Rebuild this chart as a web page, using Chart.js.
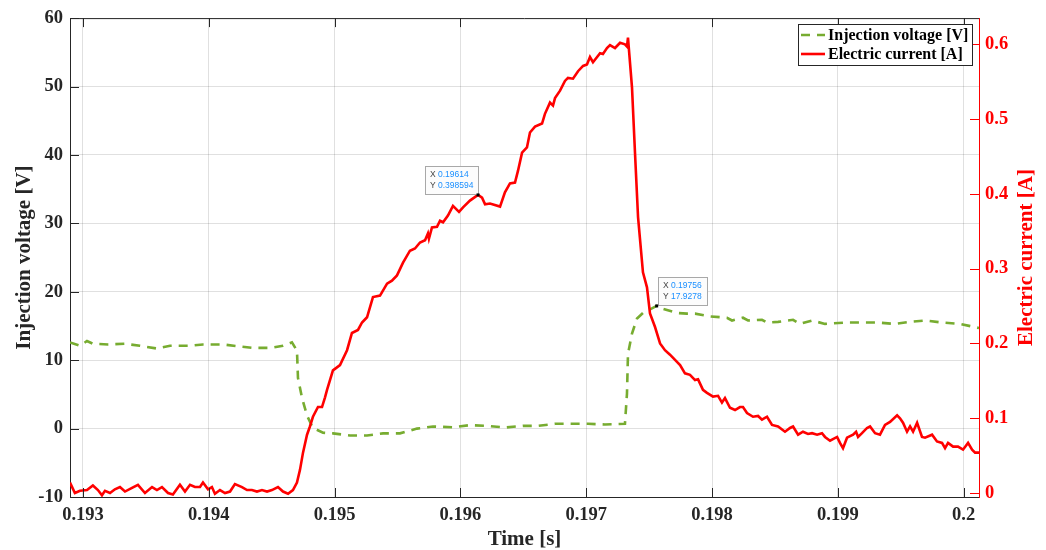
<!DOCTYPE html>
<html>
<head>
<meta charset="utf-8">
<script src="https://cdn.jsdelivr.net/npm/chart.js@4.4.1/dist/chart.umd.min.js"></script>
<style>
  html, body { margin: 0; padding: 0; background: #fff; }
</style>
</head>
<body>
<canvas id="myChart" width="1046" height="550"></canvas>
<script>
// time axis [s] for the current trace
const timeCurrent = [
  0.192897, 0.192936, 0.192976, 0.193032, 0.193079, 0.193119, 0.193151, 0.193175, 0.193215, 0.193254,
  0.193294, 0.193334, 0.193390, 0.193437, 0.193493, 0.193549, 0.193588, 0.193628, 0.193676, 0.193715,
  0.193771, 0.193811, 0.193851, 0.193890, 0.193930, 0.193954, 0.193994, 0.194025, 0.194049, 0.194089,
  0.194129, 0.194169, 0.194208, 0.194264, 0.194304, 0.194343, 0.194383, 0.194423, 0.194463, 0.194502,
  0.194550, 0.194590, 0.194630, 0.194669, 0.194701, 0.194725, 0.194749, 0.194781, 0.194804, 0.194828,
  0.194868, 0.194900, 0.194924, 0.194940, 0.194987, 0.195043, 0.195099, 0.195138, 0.195186, 0.195218,
  0.195258, 0.195305, 0.195361, 0.195417, 0.195456, 0.195496, 0.195544, 0.195599, 0.195639, 0.195679,
  0.195719, 0.195742, 0.195750, 0.195774, 0.195814, 0.195838, 0.195862, 0.195901, 0.195941, 0.195989,
  0.196021, 0.196076, 0.196140, 0.196172, 0.196196, 0.196235, 0.196315, 0.196354, 0.196394, 0.196434,
  0.196458, 0.196490, 0.196529, 0.196553, 0.196593, 0.196649, 0.196672, 0.196712, 0.196736, 0.196752,
  0.196792, 0.196831, 0.196855, 0.196895, 0.196935, 0.196975, 0.197006, 0.197030, 0.197054, 0.197110,
  0.197133, 0.197165, 0.197189, 0.197229, 0.197269, 0.197308, 0.197324, 0.197332, 0.197364, 0.197388,
  0.197412, 0.197451, 0.197483, 0.197507, 0.197547, 0.197587, 0.197626, 0.197666, 0.197706, 0.197746,
  0.197785, 0.197825, 0.197865, 0.197889, 0.197928, 0.197960, 0.198008, 0.198048, 0.198079, 0.198103,
  0.198143, 0.198183, 0.198222, 0.198246, 0.198278, 0.198326, 0.198366, 0.198397, 0.198437, 0.198477,
  0.198525, 0.198580, 0.198620, 0.198644, 0.198684, 0.198723, 0.198763, 0.198795, 0.198835, 0.198874,
  0.198898, 0.198938, 0.198994, 0.199017, 0.199041, 0.199073, 0.199121, 0.199145, 0.199161, 0.199192,
  0.199232, 0.199256, 0.199296, 0.199335, 0.199375, 0.199415, 0.199471, 0.199494, 0.199518, 0.199550,
  0.199574, 0.199598, 0.199630, 0.199669, 0.199693, 0.199749, 0.199788, 0.199828, 0.199852, 0.199876,
  0.199916, 0.199955, 0.199995, 0.200035, 0.200067, 0.200091, 0.200122
];
// electric current [A]
const current = [
  0.014, 0.000, 0.003, 0.004, 0.010, 0.004, -0.003, 0.003, 0.000, 0.005,
  0.008, 0.002, 0.007, 0.011, 0.000, 0.008, 0.004, 0.008, 0.000, -0.002,
  0.011, 0.002, 0.011, 0.008, 0.008, 0.014, 0.005, 0.008, -0.001, 0.004,
  0.000, 0.002, 0.012, 0.008, 0.004, 0.004, 0.002, 0.004, 0.002, 0.004,
  0.008, 0.002, -0.001, 0.004, 0.014, 0.031, 0.054, 0.078, 0.089, 0.102,
  0.115, 0.115, 0.128, 0.138, 0.164, 0.171, 0.191, 0.214, 0.218, 0.228,
  0.235, 0.262, 0.264, 0.280, 0.284, 0.291, 0.308, 0.324, 0.327, 0.335,
  0.338, 0.347, 0.340, 0.355, 0.356, 0.364, 0.362, 0.371, 0.384, 0.376,
  0.382, 0.391, 0.398594, 0.395, 0.386, 0.387, 0.383, 0.402, 0.414, 0.415,
  0.431, 0.455, 0.462, 0.482, 0.490, 0.494, 0.507, 0.522, 0.518, 0.528,
  0.538, 0.551, 0.555, 0.554, 0.564, 0.571, 0.573, 0.583, 0.576, 0.588,
  0.587, 0.595, 0.599, 0.595, 0.602, 0.600, 0.597, 0.609, 0.542, 0.454,
  0.369, 0.295, 0.275, 0.240, 0.222, 0.200, 0.191, 0.185, 0.178, 0.171,
  0.160, 0.158, 0.151, 0.152, 0.138, 0.134, 0.129, 0.130, 0.121, 0.127,
  0.114, 0.111, 0.115, 0.115, 0.107, 0.102, 0.103, 0.098, 0.102, 0.091,
  0.089, 0.082, 0.087, 0.089, 0.078, 0.082, 0.079, 0.080, 0.078, 0.080,
  0.075, 0.070, 0.075, 0.067, 0.060, 0.074, 0.078, 0.082, 0.075, 0.080,
  0.087, 0.089, 0.080, 0.078, 0.091, 0.095, 0.104, 0.100, 0.094, 0.082,
  0.089, 0.082, 0.094, 0.075, 0.074, 0.078, 0.069, 0.067, 0.060, 0.067,
  0.062, 0.062, 0.058, 0.067, 0.058, 0.054, 0.054
];
// time axis [s] for the voltage trace
const timeVoltage = [
  0.192897, 0.192976, 0.193032, 0.193079, 0.193199, 0.193334, 0.193453, 0.193588, 0.193692, 0.193851,
  0.193954, 0.194113, 0.194248, 0.194343, 0.194487, 0.194590, 0.194661, 0.194701, 0.194709, 0.194741,
  0.194781, 0.194828, 0.194908, 0.194987, 0.195122, 0.195258, 0.195385, 0.195520, 0.195655, 0.195782,
  0.195941, 0.196076, 0.196211, 0.196354, 0.196498, 0.196617, 0.196752, 0.196871, 0.197014, 0.197149,
  0.197308, 0.197324, 0.197332, 0.197364, 0.197404, 0.197451, 0.197560, 0.197610, 0.197722, 0.197801,
  0.197865, 0.197984, 0.198119, 0.198159, 0.198246, 0.198286, 0.198397, 0.198437, 0.198525, 0.198644,
  0.198699, 0.198795, 0.198898, 0.199057, 0.199176, 0.199312, 0.199455, 0.199574, 0.199693, 0.199828,
  0.199971, 0.200122
];
// injection voltage [V]
const voltage = [
  12.6, 12.1, 12.8, 12.4, 12.3, 12.4, 12.1, 11.7, 12.1, 12.1,
  12.3, 12.3, 12.0, 11.8, 11.8, 12.1, 12.6, 11.4, 7.4, 4.5,
  1.9, 0.1, -0.6, -0.7, -1.0, -1.0, -0.7, -0.7, 0.0, 0.3,
  0.2, 0.5, 0.4, 0.15, 0.4, 0.4, 0.7, 0.7, 0.7, 0.6,
  0.7, 5.1, 10.9, 13.9, 16.1, 16.9, 17.9278, 17.5, 16.9, 16.8,
  16.8, 16.4, 16.2, 15.8, 16.2, 15.8, 15.9, 15.5, 15.6, 15.9,
  15.3, 15.8, 15.3, 15.5, 15.5, 15.5, 15.3, 15.6, 15.8, 15.5,
  15.3, 14.7
];

const timeTicks = [0.193, 0.194, 0.195, 0.196, 0.197, 0.198, 0.199, 0.2];
const voltageTicks = [-10, 0, 10, 20, 30, 40, 50, 60];
const currentTicks = [0, 0.1, 0.2, 0.3, 0.4, 0.5, 0.6];

// data tips shown on the figure
const tipTime = [0.19614, 0.19756];
const tipValue = [0.398594, 17.9278];
const tipAxis = ['yR', 'yL'];

const SERIF = '"Liberation Serif", "Times New Roman", serif';
const INK = '#262626';
const GREEN = '#77AC30';
const RED = '#FF0000';

const framePlugin = {
  id: 'frame',
  afterDraw(chart) {
    const { ctx, chartArea: a, scales } = chart;
    const len = 9;
    ctx.save();
    ctx.lineWidth = 1;
    ctx.strokeStyle = INK;
    ctx.beginPath();
    ctx.moveTo(a.left, a.top + 0.5);
    ctx.lineTo(a.right, a.top + 0.5);
    timeTicks.forEach(v => {
      const x = Math.round(scales.x.getPixelForValue(v)) + 0.5;
      ctx.moveTo(x, a.bottom);
      ctx.lineTo(x, a.bottom - len);
      ctx.moveTo(x, a.top);
      ctx.lineTo(x, a.top + len);
    });
    voltageTicks.forEach(v => {
      const y = Math.round(scales.yL.getPixelForValue(v)) + 0.5;
      ctx.moveTo(a.left, y);
      ctx.lineTo(a.left + len, y);
    });
    ctx.stroke();

    ctx.strokeStyle = RED;
    ctx.beginPath();
    currentTicks.forEach(v => {
      const y = Math.round(scales.yR.getPixelForValue(v)) + 0.5;
      ctx.moveTo(a.right, y);
      ctx.lineTo(a.right - len, y);
    });
    ctx.stroke();

    // right axis title, reading bottom to top
    ctx.translate(1027, (a.top + a.bottom) / 2);
    ctx.rotate(-Math.PI / 2);
    ctx.fillStyle = RED;
    ctx.font = 'bold 21px ' + SERIF;
    ctx.textAlign = 'center';
    ctx.textBaseline = 'middle';
    ctx.fillText('Electric current [A]', 0, 0);
    ctx.restore();
  }
};

const legendPlugin = {
  id: 'boxLegend',
  afterDraw(chart) {
    const { ctx } = chart;
    const left = 798, top = 24, w = 174, h = 41;
    ctx.save();
    ctx.fillStyle = '#fff';
    ctx.fillRect(left, top, w, h);
    ctx.strokeStyle = INK;
    ctx.lineWidth = 1;
    ctx.strokeRect(left + 0.5, top + 0.5, w, h);
    ctx.font = 'bold 16px ' + SERIF;
    ctx.textBaseline = 'middle';
    chart.data.datasets.forEach((ds, i) => {
      const y = top + 11 + i * 19;
      ctx.strokeStyle = ds.borderColor;
      ctx.lineWidth = ds.borderWidth;
      ctx.setLineDash(ds.borderDash || []);
      ctx.beginPath();
      ctx.moveTo(left + 3, y);
      ctx.lineTo(left + 27, y);
      ctx.stroke();
      ctx.setLineDash([]);
      ctx.fillStyle = '#000';
      ctx.fillText(ds.label, left + 30, y + 1);
    });
    ctx.restore();
  }
};

const tipPlugin = {
  id: 'dataTips',
  afterDatasetsDraw(chart) {
    const { ctx, scales } = chart;
    ctx.save();
    tipTime.forEach((t, i) => {
      const px = scales.x.getPixelForValue(t);
      const py = scales[tipAxis[i]].getPixelForValue(tipValue[i]);
      const lines = [['X', String(t)], ['Y', String(tipValue[i])]];
      ctx.font = '8.5px "Liberation Sans", Arial, sans-serif';
      const tw = Math.max(...lines.map(l => ctx.measureText(l[1]).width));
      const bw = Math.round(tw + 18), bh = 28;
      const bx = i === 0 ? Math.round(px) - bw : Math.round(px) + 1;
      const by = Math.round(py) - bh - 1;
      ctx.fillStyle = 'rgba(252,252,252,0.95)';
      ctx.fillRect(bx, by, bw, bh);
      ctx.strokeStyle = '#a8a8a8';
      ctx.lineWidth = 1;
      ctx.strokeRect(bx + 0.5, by + 0.5, bw, bh);
      ctx.textBaseline = 'middle';
      lines.forEach((l, k) => {
        const ly = by + 9 + k * 11;
        ctx.fillStyle = '#444';
        ctx.fillText(l[0], bx + 5, ly);
        ctx.fillStyle = '#1a8fff';
        ctx.fillText(l[1], bx + 13, ly);
      });
      ctx.fillStyle = '#000';
      ctx.fillRect(px - 1.5, py - 1.5, 3, 3);
    });
    ctx.restore();
  }
};

const tickFont = { family: SERIF, size: 18.5, weight: 'bold' };
const titleFont = { family: SERIF, size: 21, weight: 'bold', lineHeight: 1 };

new Chart(document.getElementById('myChart').getContext('2d'), {
  type: 'line',
  data: {
    datasets: [
      {
        label: 'Injection voltage [V]',
        data: timeVoltage.map((t, i) => ({ x: t, y: voltage[i] })),
        yAxisID: 'yL',
        borderColor: GREEN,
        borderWidth: 2.6,
        borderDash: [9, 7],
        pointRadius: 0,
        tension: 0,
        order: 2
      },
      {
        label: 'Electric current [A]',
        data: timeCurrent.map((t, i) => ({ x: t, y: current[i] })),
        yAxisID: 'yR',
        borderColor: RED,
        borderWidth: 2.6,
        pointRadius: 0,
        tension: 0,
        order: 1
      }
    ]
  },
  options: {
    responsive: false,
    animation: false,
    devicePixelRatio: 1,
    events: [],
    layout: { padding: { top: 17, left: 0, right: 0, bottom: 0 } },
    plugins: { legend: { display: false }, tooltip: { enabled: false } },
    scales: {
      x: {
        type: 'linear',
        min: 0.192897,
        max: 0.200122,
        afterBuildTicks: s => { s.ticks = timeTicks.map(v => ({ value: v })); },
        afterFit: s => { s.height = 53; },
        grid: { color: 'rgba(0,0,0,0.12)', lineWidth: 1, drawTicks: false },
        border: { color: INK, width: 1 },
        ticks: {
          color: INK, font: tickFont, padding: 7, maxRotation: 0, autoSkip: false,
          callback: v => String(Number(v.toFixed(3)))
        },
        title: { display: true, text: 'Time [s]', color: INK, font: titleFont, padding: { top: 0, bottom: 0 } }
      },
      yL: {
        type: 'linear',
        position: 'left',
        min: -10,
        max: 60,
        afterBuildTicks: s => { s.ticks = voltageTicks.map(v => ({ value: v })); },
        afterFit: s => { s.width = 70; },
        grid: { color: 'rgba(0,0,0,0.12)', lineWidth: 1, drawTicks: false },
        border: { color: INK, width: 1 },
        ticks: { color: INK, font: tickFont, padding: 7, callback: v => String(v) },
        title: { display: true, text: 'Injection voltage [V]', color: INK, font: titleFont, padding: { top: 14, bottom: 0 } }
      },
      yR: {
        type: 'linear',
        position: 'right',
        min: -0.0053,
        max: 0.635,
        afterBuildTicks: s => { s.ticks = currentTicks.map(v => ({ value: v })); },
        afterFit: s => { s.width = 67; },
        grid: { display: false, drawTicks: false },
        border: { color: RED, width: 1 },
        ticks: { color: RED, font: tickFont, padding: 6, callback: v => String(Number(v.toFixed(2))) }
      }
    }
  },
  plugins: [tipPlugin, framePlugin, legendPlugin]
});
</script>
</body>
</html>
